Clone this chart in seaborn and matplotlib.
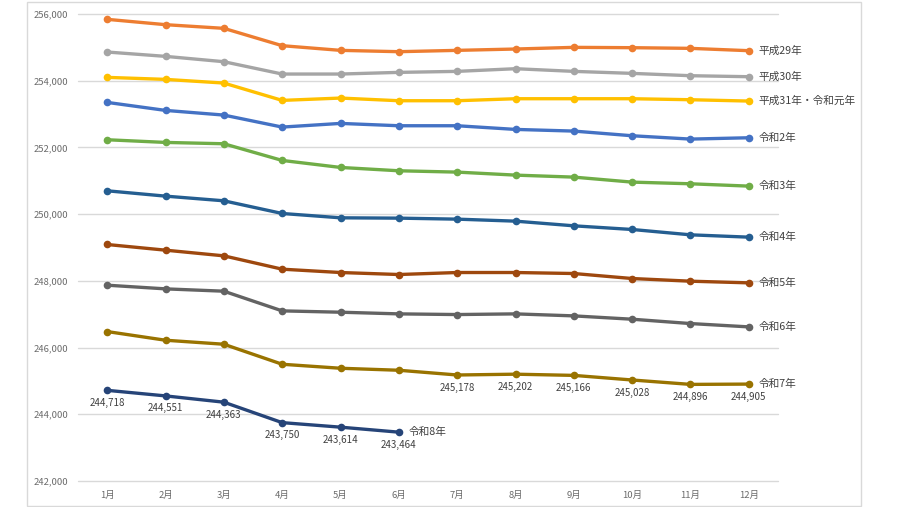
import pandas as pd
import matplotlib
matplotlib.use('Agg')
import matplotlib.pyplot as plt
import seaborn as sns
from matplotlib.patches import Rectangle
from matplotlib.ticker import FuncFormatter

months = ['1月', '2月', '3月', '4月', '5月', '6月', '7月', '8月', '9月', '10月', '11月', '12月']

h29 = [255840, 255680, 255570, 255050, 254910, 254870, 254910, 254950, 255000, 254990, 254970, 254900]
h30 = [254860, 254730, 254570, 254200, 254200, 254250, 254280, 254360, 254280, 254220, 254150, 254120]
h31 = [254100, 254040, 253930, 253410, 253480, 253400, 253400, 253460, 253460, 253460, 253430, 253390]
r2 = [253350, 253110, 252970, 252610, 252720, 252650, 252650, 252540, 252490, 252350, 252250, 252290]
r3 = [252230, 252150, 252110, 251610, 251400, 251300, 251260, 251170, 251110, 250960, 250910, 250840]
r4 = [250700, 250540, 250400, 250020, 249890, 249880, 249850, 249790, 249650, 249540, 249380, 249310]
r5 = [249090, 248920, 248750, 248350, 248250, 248190, 248250, 248250, 248220, 248070, 247990, 247940]
r6 = [247870, 247760, 247690, 247100, 247060, 247010, 246990, 247010, 246950, 246850, 246720, 246620]
r7 = [246480, 246220, 246100, 245500, 245380, 245320, 245178, 245202, 245166, 245028, 244896, 244905]
r8 = [244718, 244551, 244363, 243750, 243614, 243464]

series_names = ['平成29年', '平成30年', '平成31年・令和元年', '令和2年', '令和3年',
                '令和4年', '令和5年', '令和6年', '令和7年', '令和8年']
series_values = [h29, h30, h31, r2, r3, r4, r5, r6, r7, r8]
colors = ['#ED7D31', '#A5A5A5', '#FFC000', '#4472C4', '#70AD47',
          '#255E91', '#9E480E', '#636363', '#997300', '#264478']

# which points get a value label (series name -> month indices)
labeled = {'令和7年': range(6, 12), '令和8年': range(0, 6)}

sns.set_style('white')
plt.rcParams['font.family'] = ['Noto Sans CJK JP', 'DejaVu Sans']

fig = plt.figure(figsize=(9, 5.07), dpi=100)
ax = fig.add_axes([78 / 900, 26 / 507, 700 / 900, 467 / 507])

for name, vals, c in zip(series_names, series_values, colors):
	xs = list(range(len(vals)))
	sns.lineplot(x=xs, y=vals, ax=ax, color=c, linewidth=2.4, marker='o',
				 markersize=5.5, markeredgewidth=0, zorder=3)
	ax.annotate(name, (xs[-1], vals[-1]), xytext=(7, 0), textcoords='offset points',
				va='center', ha='left', fontsize=7.7, color='#404040', annotation_clip=False)
	if name in labeled:
		for i in labeled[name]:
			ax.annotate(f'{vals[i]:,}', (i, vals[i]), xytext=(0, -9), textcoords='offset points',
						va='center', ha='center', fontsize=7, color='#404040')

ax.set_xlim(-0.5, 11.5)
ax.set_ylim(242000, 256000)
ax.set_xticks(range(12))
ax.set_xticklabels(months)
ax.set_yticks(range(242000, 256001, 2000))
ax.yaxis.set_major_formatter(FuncFormatter(lambda v, p: f'{int(v):,}'))

ax.yaxis.grid(True, color='#D9D9D9', linewidth=1)
for gl in ax.get_ygridlines():
	gl.set_clip_on(False)
ax.xaxis.grid(False)
ax.set_axisbelow(True)
for spine in ax.spines.values():
	spine.set_visible(False)
ax.tick_params(axis='both', length=0, labelsize=6.8, labelcolor='#6b6b6b')
ax.tick_params(axis='y', pad=7)
ax.tick_params(axis='x', pad=7)
ax.set_xlabel('')
ax.set_ylabel('')

fig.patches.append(Rectangle((27 / 900, 1 / 507), 834 / 900, 504 / 507, transform=fig.transFigure,
							 fill=False, edgecolor='#D9D9D9', linewidth=1))

fig.savefig('out.png', dpi=100)
